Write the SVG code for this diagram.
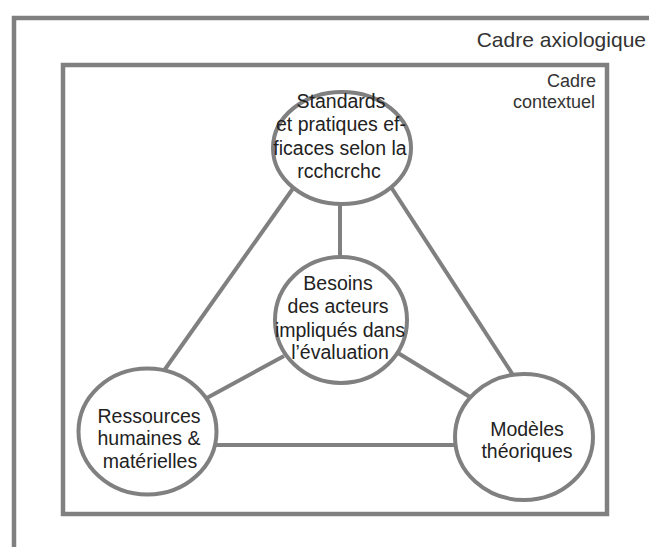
<svg xmlns="http://www.w3.org/2000/svg" width="649" height="547" viewBox="0 0 649 547">
<style>
.frame{fill:none;stroke:#808080;stroke-width:4.5}
.node{fill:#ffffff;stroke:#808080;stroke-width:4}
.conn{stroke:#808080;stroke-width:4;fill:none;stroke-linecap:butt}
.t{font-family:"Liberation Sans",Arial,sans-serif;fill:#222222;text-anchor:middle;font-size:19.5px}
.lbl{font-family:"Liberation Sans",Arial,sans-serif;fill:#333333;text-anchor:end}
</style>
<rect width="649" height="547" fill="#ffffff"/>
<g id="cadre-axiologique">
<path class="frame" d="M14,547 V18 H649"/>
<text class="lbl" x="646" y="47" font-size="21">Cadre axiologique</text>
</g>
<g id="cadre-contextuel">
<rect class="frame" x="63" y="65" width="544" height="449"/>
<text class="lbl" x="596" y="87" font-size="18">Cadre</text>
<text class="lbl" x="595" y="108" font-size="18">contextuel</text>
</g>
<g id="connectors">
<line class="conn" x1="340" y1="203" x2="340" y2="258"/>
<line class="conn" x1="294" y1="187" x2="163" y2="372"/>
<line class="conn" x1="391" y1="187" x2="513" y2="375"/>
<line class="conn" x1="284" y1="356" x2="205" y2="399"/>
<line class="conn" x1="398" y1="353" x2="470" y2="397"/>
<line class="conn" x1="213" y1="445" x2="457" y2="445"/>
</g>
<g id="standards">
<ellipse class="node" cx="342" cy="148" rx="69" ry="56"/>
<text class="t" x="341" y="108">Standards</text>
<text class="t" x="341" y="131">et pratiques ef-</text>
<text class="t" x="340" y="155">ficaces selon la</text>
<text class="t" x="339" y="178">rcchcrchc</text>
</g>
<g id="besoins">
<ellipse class="node" cx="341" cy="320" rx="66" ry="63"/>
<text class="t" x="338" y="290">Besoins</text>
<text class="t" x="338" y="313">des acteurs</text>
<text class="t" x="340" y="337">impliqués dans</text>
<text class="t" x="340" y="359">l’évaluation</text>
</g>
<g id="ressources">
<ellipse class="node" cx="147.5" cy="431.5" rx="69" ry="63"/>
<text class="t" x="149" y="423">Ressources</text>
<text class="t" x="149" y="445">humaines &amp;</text>
<text class="t" x="150" y="468">matérielles</text>
</g>
<g id="modeles">
<ellipse class="node" cx="524" cy="437" rx="69" ry="63"/>
<text class="t" x="527" y="436">Modèles</text>
<text class="t" x="527" y="458">théoriques</text>
</g>
</svg>
